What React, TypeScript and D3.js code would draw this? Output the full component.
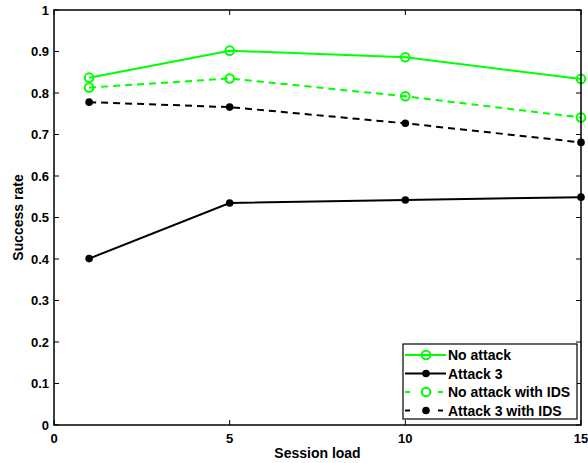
import React from "react";
import * as d3 from "d3";

const sessionLoad = [1, 5, 10, 15];
const noAttack = [0.837, 0.902, 0.886, 0.834];
const attack3 = [0.401, 0.535, 0.542, 0.549];
const noAttackIDS = [0.813, 0.835, 0.792, 0.741];
const attack3IDS = [0.778, 0.766, 0.727, 0.681];
const xTicks = [0, 5, 10, 15];
const yTicks = [0, 0.1, 0.2, 0.3, 0.4, 0.5, 0.6, 0.7, 0.8, 0.9, 1];
const yTickLabels = ["0", "0.1", "0.2", "0.3", "0.4", "0.5", "0.6", "0.7", "0.8", "0.9", "1"];

const series = [
  { name: "No attack", values: noAttack, color: "#00ff00", dashed: false, open: true },
  { name: "Attack 3", values: attack3, color: "#000000", dashed: false, open: false },
  { name: "No attack with IDS", values: noAttackIDS, color: "#00ff00", dashed: true, open: true },
  { name: "Attack 3 with IDS", values: attack3IDS, color: "#000000", dashed: true, open: false },
];

export default function App() {
  const W = 588, H = 463;
  const L = 54, R = 581, T = 10, B = 425;
  const x = d3.scaleLinear().domain([0, 15]).range([L, R]);
  const y = d3.scaleLinear().domain([0, 1]).range([B, T]);
  const font = "'Liberation Sans', Arial, Helvetica, sans-serif";
  const line = d3.line<number>().x((_, i) => x(sessionLoad[i])).y((v) => y(v));
  const tl = 5;

  const marker = (s: typeof series[0], cx: number, cy: number, key: string) =>
    s.open ? (
      <circle key={key} cx={cx} cy={cy} r={4.3} fill="none" stroke={s.color} strokeWidth={2} />
    ) : (
      <circle key={key} cx={cx} cy={cy} r={3.8} fill={s.color} />
    );

  const legX0 = 403, legX1 = 577, legY0 = 344, legY1 = 419;
  const rowY = [355, 373.5, 392, 410.5];

  return (
    <svg width={W} height={H} style={{ position: "absolute", left: 0, top: 0 }} fontFamily={font}>
      <rect x={0} y={0} width={W} height={H} fill="#fff" />
      {xTicks.map((t) => (
        <g key={"xt" + t}>
          <line x1={x(t)} x2={x(t)} y1={B} y2={B - tl} stroke="#000" strokeWidth={1} />
          <line x1={x(t)} x2={x(t)} y1={T} y2={T + tl} stroke="#000" strokeWidth={1} />
          <text x={x(t)} y={443} textAnchor="middle" fontSize={13} fontWeight="bold">
            {t}
          </text>
        </g>
      ))}
      {yTicks.map((t, i) => (
        <g key={"yt" + t}>
          <line x1={L} x2={L + tl} y1={y(t)} y2={y(t)} stroke="#000" strokeWidth={1} />
          <line x1={R} x2={R - tl} y1={y(t)} y2={y(t)} stroke="#000" strokeWidth={1} />
          <text x={49} y={y(t) + 4.5} textAnchor="end" fontSize={13} fontWeight="bold">
            {yTickLabels[i]}
          </text>
        </g>
      ))}
      {series.map((s) => (
        <g key={s.name}>
          <path
            d={line(s.values) || ""}
            fill="none"
            stroke={s.color}
            strokeWidth={2}
            strokeDasharray={s.dashed ? "7,5" : undefined}
          />
          {s.values.map((v, i) => marker(s, x(sessionLoad[i]), y(v), s.name + i))}
        </g>
      ))}
      <rect x={L} y={T} width={R - L} height={B - T} fill="none" stroke="#000" strokeWidth={1.5} />
      <rect x={legX0} y={legY0} width={legX1 - legX0} height={legY1 - legY0} fill="#fff" stroke="#000" strokeWidth={1.2} />
      {series.map((s, i) => (
        <g key={"leg" + s.name}>
          <line
            x1={405}
            x2={446}
            y1={rowY[i]}
            y2={rowY[i]}
            stroke={s.color}
            strokeWidth={2}
            strokeDasharray={s.dashed ? "5,28" : undefined}
          />
          {marker(s, 426, rowY[i], "lm" + i)}
          <text x={448} y={rowY[i] + 5} fontSize={14} fontWeight="bold">
            {s.name}
          </text>
        </g>
      ))}
      <text x={(L + R) / 2} y={458} textAnchor="middle" fontSize={14} fontWeight="bold">
        Session load
      </text>
      <text
        transform={`translate(23, ${(T + B) / 2}) rotate(-90)`}
        textAnchor="middle"
        fontSize={14}
        fontWeight="bold"
      >
        Success rate
      </text>
    </svg>
  );
}
